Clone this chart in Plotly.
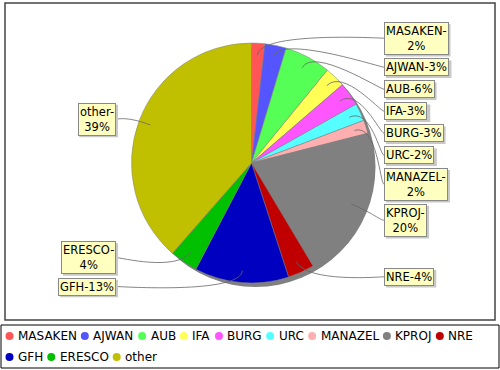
import math
import plotly.graph_objects as go

# ---------------- data ----------------
categories = ["MASAKEN", "AJWAN", "AUB", "IFA", "BURG", "URC", "MANAZEL",
              "KPROJ", "NRE", "GFH", "ERESCO", "other"]
values = [1.8, 2.9, 6.3, 2.8, 3.2, 2.4, 1.8, 20.6, 3.6, 12.8, 3.8, 38.9]
colors = ["#FF5555", "#5555FF", "#55FF55", "#FFFF55", "#FF55FF", "#55FFFF",
          "#FFAFAF", "#808080", "#C00000", "#0000C0", "#00C000", "#C0C000"]

# ---------------- geometry (pixels) ----------------
W, H = 500, 370
CX, CY, R = 251.5, 163.0, 120.0
FONT = "DejaVu Sans"


def px(x):
    return x / W


def py(y):
    return 1 - y / H


# DejaVu Sans advance widths (units per em 2048) for text width estimation
ADV = {"A": 1401, "B": 1405, "C": 1430, "D": 1577, "E": 1294, "F": 1178, "G": 1587,
       "H": 1540, "I": 604, "J": 604, "K": 1343, "L": 1141, "M": 1767, "N": 1532,
       "O": 1612, "P": 1235, "Q": 1612, "R": 1423, "S": 1300, "T": 1251, "U": 1499,
       "V": 1401, "W": 2025, "X": 1403, "Y": 1251, "Z": 1403,
       "o": 1255, "t": 803, "h": 1298, "e": 1260, "r": 842,
       "-": 739, "%": 1946}
for d in "0123456789":
    ADV[d] = 1303


def text_w(s, fs):
    return sum(ADV.get(ch, 1200) for ch in s) / 2048 * fs


fig = go.Figure()

# pie shadow
fig.add_trace(go.Pie(
    values=[1], marker=dict(colors=["#808080"]),
    domain=dict(x=[px(CX - R + 4), px(CX + R + 4)], y=[py(CY + R + 4), py(CY - R + 4)]),
    textinfo="none", hoverinfo="skip", showlegend=False, sort=False))

fig.add_trace(go.Pie(
    labels=categories, values=values,
    marker=dict(colors=colors, line=dict(color="#808080", width=0.5)),
    domain=dict(x=[px(CX - R), px(CX + R)], y=[py(CY + R), py(CY - R)]),
    sort=False, direction="clockwise", rotation=0,
    textinfo="none", hoverinfo="skip", showlegend=False))

shapes = []
annotations = []

# ---------------- section labels ----------------
LAB_FS = 11.5
total = sum(values)
RL = 125.0
GAP = 5.0
YMIN, YMAX = 20.0, 295.0
recs = []
cum = 0.0
for name, v in zip(categories, values):
    pct = round(100 * v / total)
    txt = f"{name}-{pct}%"
    if len(txt) > 8:
        lines = [f"{name}-", f"{pct}%"]
        h = 31.0
    else:
        lines = [txt]
        h = 17.0
    mid = 2 * math.pi * (cum + v / 2) / total
    cum += v
    side = "right" if math.sin(mid) >= 0 else "left"
    recs.append(dict(lines=lines, h=h, mid=mid, side=side, y=CY - RL * math.cos(mid)))


def distribute(rs):
    rs.sort(key=lambda r: r["y"])
    for i in range(len(rs) - 1):
        r0, r1 = rs[i], rs[i + 1]
        if r1["y"] - r1["h"] / 2 < r0["y"] + r0["h"] / 2 + GAP:
            r1["y"] = min(YMAX - r1["h"] / 2, r0["y"] + r0["h"] / 2 + GAP + r1["h"] / 2)
    for i in range(len(rs) - 1, 0, -1):
        r0, r1 = rs[i], rs[i - 1]
        if r1["y"] + r1["h"] / 2 > r0["y"] - r0["h"] / 2 - GAP:
            r1["y"] = max(YMIN + r1["h"] / 2, r0["y"] - r0["h"] / 2 - GAP - r1["h"] / 2)


right = [r for r in recs if r["side"] == "right"]
left = [r for r in recs if r["side"] == "left"]
distribute(right)
distribute(left)

RX_LABEL = 384.0
LX_LABEL = 116.0
for r in recs:
    s, c = math.sin(r["mid"]), math.cos(r["mid"])
    sx, sy = CX + 0.9 * R * s, CY - 0.9 * R * c
    ex, ey = CX + 1.1 * R * s, CY - 1.1 * R * c
    bw = max(text_w(ln, LAB_FS) for ln in r["lines"]) + 4
    bh = 13.4 + 15.0 * (len(r["lines"]) - 1) + 4
    if r["side"] == "right":
        tx = RX_LABEL
        ax = tx - 4
        xanchor = "left"
        bx0 = tx
    else:
        tx = LX_LABEL
        ax = tx + 4
        xanchor = "right"
        bx0 = tx - bw
    ty = r["y"]
    path = (f"M {px(sx)},{py(sy)} C {px(ex)},{py(ey)} {px(ax)},{py(ty)} "
            f"{px(tx)},{py(ty)}")
    shapes.append(dict(type="path", xref="paper", yref="paper", path=path,
                       line=dict(color="#666666", width=0.8)))
    # label shadow
    shapes.append(dict(type="rect", xref="paper", yref="paper",
                       x0=px(bx0 + 2), x1=px(bx0 + bw + 2),
                       y0=py(ty + bh / 2 + 2), y1=py(ty - bh / 2 + 2),
                       fillcolor="#C8C8C8", line=dict(width=0)))
    annotations.append(dict(
        x=px(tx), y=py(ty), xref="paper", yref="paper", xanchor=xanchor, yanchor="middle",
        text="<br>".join(r["lines"]), showarrow=False, align="center",
        font=dict(family=FONT, size=LAB_FS, color="#000000"),
        bgcolor="#FFFFC0", bordercolor="#888888", borderwidth=1, borderpad=1))

# ---------------- frames ----------------
shapes.insert(0, dict(type="rect", xref="paper", yref="paper",
                      x0=px(5), x1=px(495), y0=py(320), y1=py(3),
                      line=dict(color="#444444", width=1.5), layer="below"))
shapes.append(dict(type="rect", xref="paper", yref="paper",
                   x0=px(1), x1=px(499), y0=py(368), y1=py(325),
                   line=dict(color="#000000", width=1)))

# ---------------- legend (circles + text) ----------------
LEG_FS = 12
ROW_BREAK = 9
row_y = [336.0, 357.0]
for row, items in enumerate([list(range(ROW_BREAK)), list(range(ROW_BREAK, len(categories)))]):
    xc = 9.5
    for i in items:
        yc = row_y[row]
        shapes.append(dict(type="circle", xref="paper", yref="paper",
                           x0=px(xc - 4), x1=px(xc + 4), y0=py(yc + 4), y1=py(yc - 4),
                           fillcolor=colors[i], line=dict(width=0)))
        annotations.append(dict(
            x=px(xc + 7.5), y=py(yc), xref="paper", yref="paper",
            xanchor="left", yanchor="middle", text=categories[i], showarrow=False,
            font=dict(family=FONT, size=LEG_FS, color="#000000"), borderpad=0))
        xc += 7.5 + text_w(categories[i], LEG_FS) + 9

fig.update_layout(
    width=W, height=H, margin=dict(l=0, r=0, t=0, b=0),
    paper_bgcolor="#FFFFFF", plot_bgcolor="#FFFFFF",
    showlegend=False, font=dict(family=FONT),
    shapes=shapes, annotations=annotations)

fig.write_html("out.html", config={"displayModeBar": False},
               post_script="document.body.style.margin='0';document.body.style.padding='0';")
